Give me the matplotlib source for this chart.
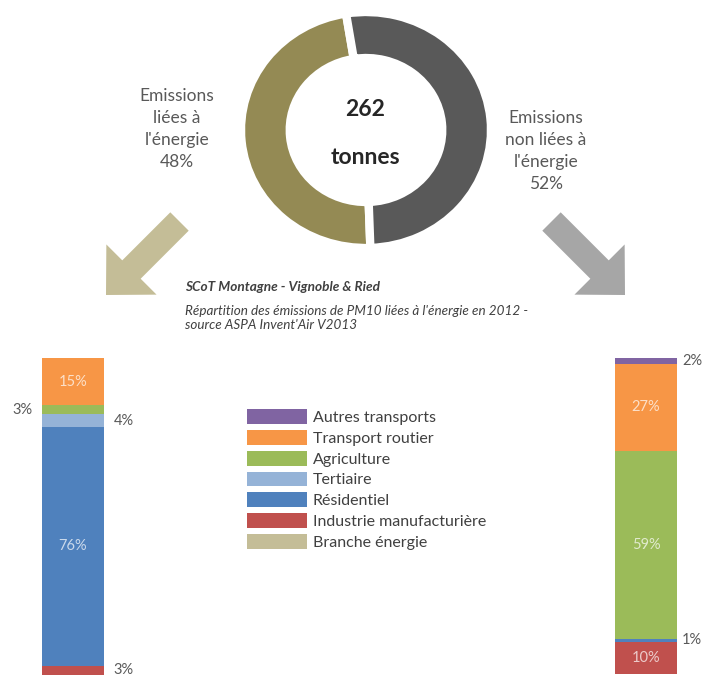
import matplotlib
matplotlib.use("Agg")
import matplotlib.pyplot as plt
from matplotlib.patches import FancyArrow, Patch

plt.rcParams['font.family'] = ['Lato', 'DejaVu Sans']

# --- data -------------------------------------------------------------
total_tonnes = 262
split_labels = ["Emissions\nliées à\nl'énergie", "Emissions\nnon liées à\nl'énergie"]
split_values = [48, 52]
split_colors = ["#948A54", "#595959"]

sectors = ["Autres transports", "Transport routier", "Agriculture", "Tertiaire",
           "Résidentiel", "Industrie manufacturière", "Branche énergie"]
sector_colors = ["#8064A2", "#F79646", "#9BBB59", "#95B3D7",
                 "#4F81BD", "#C0504D", "#C4BD97"]
# shares (%) per sector, same order as `sectors`
energy_shares = [0, 15, 3, 4, 76, 3, 0]
non_energy_shares = [2, 27, 59, 0, 1, 10, 0]

title_main = "SCoT Montagne - Vignoble & Ried"
title_sub = "Répartition des émissions de PM10 liées à l'énergie en 2012 -\nsource ASPA Invent'Air V2013"

# --- figure -----------------------------------------------------------
W, H = 705, 676
fig = plt.figure(figsize=(W / 100, H / 100), dpi=100)


def px_axes(x0, y0, x1, y1):
    """Axes placed by pixel box (top-left origin)."""
    return fig.add_axes([x0 / W, 1 - y1 / H, (x1 - x0) / W, (y1 - y0) / H])


# overlay in pixel units for arrows and free text
ov = fig.add_axes([0, 0, 1, 1])
ov.set_xlim(0, W)
ov.set_ylim(H, 0)
ov.axis("off")

# donut
ax_d = px_axes(241, 12, 491, 248)
ax_d.pie(split_values, colors=split_colors, startangle=-88, counterclock=False,
         radius=1.0, wedgeprops=dict(width=0.39, edgecolor="white", linewidth=6))
ax_d.set_aspect("auto")
ax_d.set_xlim(-1, 1)
ax_d.set_ylim(-1, 1)
ov.text(365, 110, f"{total_tonnes}", ha="center", va="center",
        fontsize=16.5, fontweight="bold", color="#262626")
ov.text(365, 158, "tonnes", ha="center", va="center",
        fontsize=16.5, fontweight="bold", color="#262626")

# side labels
ov.text(177, 129, f"{split_labels[0]}\n{split_values[0]}%", ha="center", va="center",
        fontsize=12.5, color="#595959", linespacing=1.45)
ov.text(546, 151, f"{split_labels[1]}\n{split_values[1]}%", ha="center", va="center",
        fontsize=12.5, color="#595959", linespacing=1.45)

# arrows
ov.add_patch(FancyArrow(179.5, 221.5, -73.5, 73.5, width=26, head_width=71,
                        head_length=36, length_includes_head=True,
                        color="#C4BD97", lw=0))
ov.add_patch(FancyArrow(551.5, 221.5, 73.5, 73.5, width=26, head_width=71,
                        head_length=36, length_includes_head=True,
                        color="#A6A6A6", lw=0))

# titles
ov.text(185, 287, title_main, ha="left", va="center", fontsize=9.8,
        fontweight="bold", fontstyle="italic", color="#404040")
ov.text(185, 318, title_sub, ha="left", va="center", fontsize=9.7,
        fontstyle="italic", color="#404040", linespacing=1.2)


def stacked_bar(ax, shares, inside, outside, gap):
    total = sum(shares)
    bottom = 0
    # stack from the bottom: reverse of legend order
    for i in reversed(range(len(sectors))):
        v = shares[i]
        if v == 0:
            continue
        ax.bar([0], [v], bottom=bottom, width=1.0, color=sector_colors[i],
               edgecolor="none")
        mid = bottom + v / 2
        if i in inside:
            ax.text(0, mid, f"{v}%", ha="center", va="center", fontsize=10.5,
                    color="white", alpha=0.7)
        elif i in outside:
            side = outside[i]
            x = -0.5 if side == "left" else 0.5
            off = -gap if side == "left" else gap
            ax.annotate(f"{v}%", xy=(x, mid), xytext=(off, 0),
                        textcoords="offset points",
                        ha="right" if side == "left" else "left",
                        va="center", fontsize=10.5, color="#595959",
                        annotation_clip=False)
        bottom += v
    ax.set_xlim(-0.5, 0.5)
    ax.set_ylim(0, total)
    ax.axis("off")


ax_l = px_axes(42, 358, 104, 675)
stacked_bar(ax_l, energy_shares, inside={1, 4},
            outside={2: "left", 3: "right", 5: "right"}, gap=7)

ax_r = px_axes(615, 358, 677, 674)
stacked_bar(ax_r, non_energy_shares, inside={1, 2, 5},
            outside={0: "right", 4: "right"}, gap=3.5)

# legend
handles = [Patch(facecolor=c, edgecolor="none") for c in sector_colors]
fig.legend(handles, sectors, loc="upper left",
           bbox_to_anchor=(247 / W, 1 - 409 / H), frameon=False,
           fontsize=11.5, labelcolor="#404040", borderpad=0, borderaxespad=0,
           handlelength=3.75, handleheight=1.06, handletextpad=0.37,
           labelspacing=0.31)

fig.savefig("out.png", dpi=100, facecolor="white")
